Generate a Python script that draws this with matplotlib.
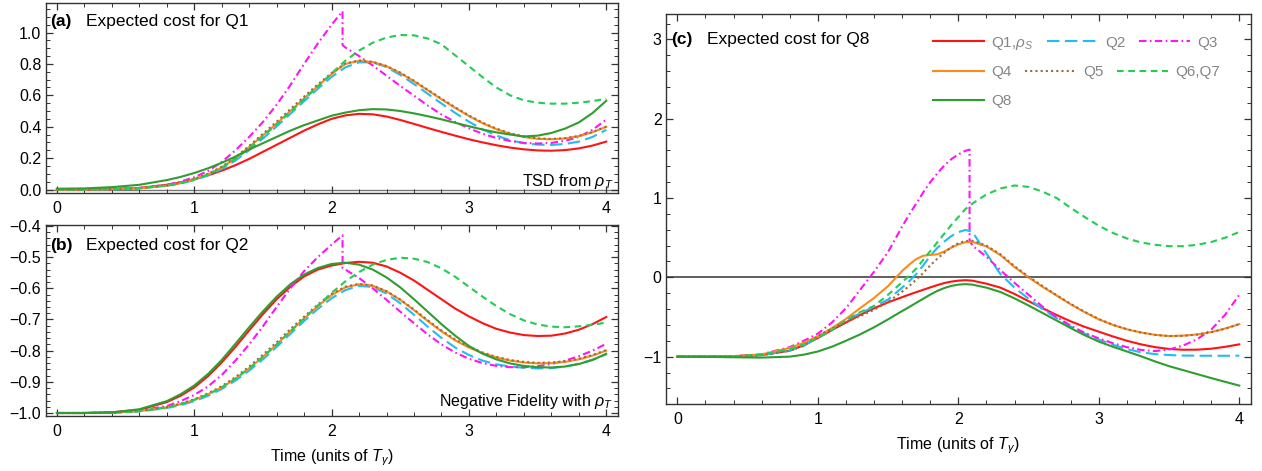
import matplotlib
matplotlib.use("Agg")
import matplotlib.pyplot as plt
from matplotlib.ticker import MultipleLocator, FuncFormatter
from matplotlib.lines import Line2D

plt.rcParams['font.family'] = ['Liberation Sans', 'DejaVu Sans']
plt.rcParams['mathtext.fontset'] = 'custom'
plt.rcParams['mathtext.rm'] = 'Liberation Sans'
plt.rcParams['mathtext.it'] = 'Liberation Sans:italic'
plt.rcParams['mathtext.bf'] = 'Liberation Sans:bold'

# ---------------------------------------------------------------- time grids
t_ab = [0, 0.2, 0.4, 0.6, 0.8, 0.9, 1.0, 1.1, 1.2, 1.3, 1.4, 1.5, 1.6, 1.7,
        1.8, 1.9, 2.0, 2.1, 2.2, 2.3, 2.4, 2.5, 2.6, 2.7, 2.8, 2.9, 3.0, 3.1,
        3.2, 3.3, 3.4, 3.5, 3.6, 3.7, 3.8, 3.9, 4.0]
# Q3 has a jump at the switching time
t_ab_q3 = [0, 0.2, 0.4, 0.6, 0.8, 0.9, 1.0, 1.1, 1.2, 1.3, 1.4, 1.5, 1.6, 1.7,
           1.8, 1.9, 2.0, 2.08, 2.08, 2.1, 2.2, 2.3, 2.4, 2.5, 2.6, 2.7, 2.8,
           2.9, 3.0, 3.1, 3.2, 3.3, 3.4, 3.5, 3.6, 3.7, 3.8, 3.9, 4.0]
t_c = [0, 0.2, 0.4, 0.6, 0.8, 0.9, 1.0, 1.1, 1.2, 1.3, 1.4, 1.5, 1.6, 1.65,
       1.7, 1.75, 1.8, 1.85, 1.9, 1.95, 2.0, 2.05, 2.1, 2.2, 2.3, 2.4, 2.5,
       2.6, 2.7, 2.8, 2.9, 3.0, 3.1, 3.2, 3.3, 3.4, 3.5, 3.6, 3.7, 3.8, 3.9, 4.0]
t_c_q3 = [0, 0.2, 0.4, 0.6, 0.8, 0.9, 1.0, 1.1, 1.2, 1.3, 1.4, 1.5, 1.6, 1.65,
          1.7, 1.75, 1.8, 1.85, 1.9, 1.95, 2.0, 2.05, 2.08, 2.08, 2.1, 2.2,
          2.3, 2.4, 2.5, 2.6, 2.7, 2.8, 2.9, 3.0, 3.1, 3.2, 3.3, 3.4, 3.5,
          3.6, 3.7, 3.8, 3.9, 4.0]

# ------------------------------------------- (a) expected cost for Q1 (TSD)
a_q1 = [0.0, 0.0, 0.003, 0.01, 0.03, 0.045, 0.065, 0.09, 0.12, 0.155, 0.195,
        0.24, 0.285, 0.33, 0.375, 0.415, 0.45, 0.472, 0.482, 0.479, 0.465,
        0.443, 0.418, 0.392, 0.367, 0.343, 0.32, 0.3, 0.282, 0.267, 0.256,
        0.249, 0.247, 0.251, 0.262, 0.28, 0.305]
a_q2 = [0.0, 0.0, 0.002, 0.008, 0.024, 0.038, 0.06, 0.09, 0.13, 0.185, 0.25,
        0.325, 0.402, 0.482, 0.562, 0.642, 0.717, 0.778, 0.81, 0.81, 0.78,
        0.73, 0.672, 0.61, 0.548, 0.488, 0.432, 0.383, 0.344, 0.314, 0.295,
        0.286, 0.284, 0.29, 0.305, 0.335, 0.38]
a_q3 = [0.0, 0.0, 0.002, 0.01, 0.03, 0.05, 0.078, 0.118, 0.175, 0.25, 0.335,
        0.43, 0.54, 0.665, 0.8, 0.93, 1.05, 1.135, 0.92, 0.905, 0.85, 0.79,
        0.725, 0.66, 0.598, 0.535, 0.478, 0.43, 0.39, 0.355, 0.328, 0.309,
        0.297, 0.293, 0.297, 0.31, 0.335, 0.38, 0.445]
a_q4 = [0.0, 0.0, 0.002, 0.008, 0.025, 0.04, 0.065, 0.097, 0.14, 0.2, 0.27,
        0.345, 0.42, 0.5, 0.58, 0.66, 0.735, 0.8, 0.82, 0.812, 0.785, 0.742,
        0.69, 0.632, 0.575, 0.52, 0.468, 0.422, 0.384, 0.355, 0.335, 0.323,
        0.32, 0.325, 0.34, 0.365, 0.4]
a_q5 = [0.0, 0.0, 0.002, 0.008, 0.026, 0.042, 0.068, 0.1, 0.145, 0.205, 0.278,
        0.355, 0.432, 0.512, 0.592, 0.67, 0.742, 0.803, 0.822, 0.813, 0.787,
        0.745, 0.693, 0.636, 0.579, 0.524, 0.472, 0.426, 0.388, 0.358, 0.338,
        0.326, 0.322, 0.327, 0.341, 0.366, 0.4]
a_q6 = [0.0, 0.0, 0.002, 0.008, 0.025, 0.04, 0.063, 0.095, 0.137, 0.195, 0.262,
        0.337, 0.415, 0.495, 0.575, 0.655, 0.74, 0.82, 0.885, 0.935, 0.968,
        0.984, 0.982, 0.962, 0.925, 0.855, 0.785, 0.715, 0.65, 0.6, 0.568,
        0.553, 0.547, 0.547, 0.553, 0.563, 0.578]
a_q8 = [0.005, 0.007, 0.015, 0.03, 0.06, 0.08, 0.105, 0.135, 0.17, 0.21, 0.255,
        0.295, 0.335, 0.375, 0.41, 0.44, 0.47, 0.49, 0.505, 0.512, 0.51, 0.5,
        0.485, 0.467, 0.447, 0.425, 0.403, 0.382, 0.364, 0.35, 0.338, 0.343,
        0.36, 0.388, 0.427, 0.487, 0.565]

# ------------------------------- (b) expected cost for Q2 (negative fidelity)
b_q1 = [-1.0, -1.0, -0.998, -0.99, -0.965, -0.945, -0.918, -0.882, -0.838,
        -0.788, -0.735, -0.683, -0.635, -0.595, -0.562, -0.54, -0.527, -0.519,
        -0.515, -0.518, -0.53, -0.55, -0.575, -0.605, -0.635, -0.665, -0.69,
        -0.712, -0.73, -0.742, -0.75, -0.753, -0.752, -0.745, -0.733, -0.715,
        -0.692]
b_q2 = [-1.0, -1.0, -0.999, -0.995, -0.984, -0.975, -0.962, -0.945, -0.923,
        -0.896, -0.864, -0.828, -0.788, -0.746, -0.705, -0.666, -0.632, -0.606,
        -0.592, -0.596, -0.617, -0.648, -0.685, -0.723, -0.759, -0.79, -0.814,
        -0.832, -0.844, -0.851, -0.855, -0.857, -0.856, -0.851, -0.842, -0.829,
        -0.812]
b_q3 = [-1.0, -1.0, -0.998, -0.992, -0.978, -0.962, -0.942, -0.915, -0.878,
        -0.832, -0.78, -0.722, -0.66, -0.6, -0.545, -0.5, -0.46, -0.43, -0.535,
        -0.54, -0.567, -0.6, -0.637, -0.675, -0.712, -0.748, -0.78, -0.806,
        -0.826, -0.84, -0.849, -0.853, -0.853, -0.85, -0.843, -0.832, -0.818,
        -0.8, -0.778]
b_q4 = [-1.0, -1.0, -0.999, -0.994, -0.982, -0.972, -0.958, -0.94, -0.918,
        -0.89, -0.857, -0.82, -0.78, -0.738, -0.697, -0.657, -0.622, -0.597,
        -0.587, -0.592, -0.61, -0.637, -0.67, -0.705, -0.738, -0.767, -0.79,
        -0.808, -0.822, -0.832, -0.838, -0.841, -0.84, -0.836, -0.828, -0.816,
        -0.8]
b_q5 = [-1.0, -1.0, -0.999, -0.994, -0.981, -0.97, -0.956, -0.937, -0.914,
        -0.885, -0.851, -0.813, -0.773, -0.731, -0.691, -0.652, -0.618, -0.595,
        -0.586, -0.591, -0.609, -0.636, -0.668, -0.702, -0.735, -0.764, -0.787,
        -0.806, -0.82, -0.83, -0.836, -0.839, -0.838, -0.834, -0.826, -0.814,
        -0.798]
b_q6 = [-1.0, -1.0, -0.999, -0.994, -0.982, -0.972, -0.958, -0.94, -0.918,
        -0.89, -0.857, -0.82, -0.78, -0.738, -0.697, -0.655, -0.615, -0.578,
        -0.548, -0.524, -0.509, -0.502, -0.505, -0.516, -0.536, -0.563, -0.595,
        -0.627, -0.657, -0.683, -0.703, -0.716, -0.723, -0.725, -0.722, -0.717,
        -0.71]
b_q8 = [-1.0, -1.0, -0.998, -0.988, -0.962, -0.94, -0.912, -0.875, -0.83,
        -0.778, -0.725, -0.674, -0.627, -0.587, -0.556, -0.535, -0.522, -0.518,
        -0.524, -0.54, -0.565, -0.597, -0.635, -0.675, -0.715, -0.752, -0.785,
        -0.81, -0.828, -0.841, -0.849, -0.853, -0.854, -0.851, -0.843, -0.83,
        -0.81]

# ------------------------------------------------ (c) expected cost for Q8
c_q1 = [-1.0, -1.0, -0.996, -0.98, -0.925, -0.855, -0.765, -0.665, -0.57,
        -0.475, -0.39, -0.315, -0.25, -0.218, -0.187, -0.157, -0.127, -0.098,
        -0.072, -0.054, -0.042, -0.036, -0.042, -0.08, -0.13, -0.21, -0.3,
        -0.39, -0.475, -0.555, -0.625, -0.685, -0.745, -0.8, -0.845, -0.88,
        -0.903, -0.913, -0.912, -0.9, -0.876, -0.845]
c_q2 = [-1.0, -1.0, -0.996, -0.98, -0.925, -0.865, -0.755, -0.645, -0.54,
        -0.455, -0.37, -0.28, -0.13, -0.05, 0.04, 0.15, 0.27, 0.37, 0.45, 0.52,
        0.57, 0.597, 0.575, 0.3, 0.04, -0.13, -0.27, -0.4, -0.515, -0.62,
        -0.71, -0.785, -0.85, -0.905, -0.945, -0.968, -0.98, -0.986, -0.988,
        -0.989, -0.989, -0.988]
c_q3 = [-1.0, -1.0, -0.993, -0.97, -0.88, -0.8, -0.71, -0.57, -0.39, -0.16,
        0.07, 0.32, 0.64, 0.79, 0.93, 1.07, 1.2, 1.31, 1.41, 1.49, 1.55, 1.595,
        1.61, 0.47, 0.4, 0.26, 0.09, -0.07, -0.22, -0.37, -0.5, -0.61, -0.7,
        -0.77, -0.83, -0.88, -0.915, -0.93, -0.91, -0.86, -0.78, -0.66, -0.47,
        -0.22]
c_q4 = [-1.0, -1.0, -0.995, -0.972, -0.89, -0.825, -0.745, -0.64, -0.525,
        -0.39, -0.26, -0.11, 0.08, 0.16, 0.23, 0.272, 0.282, 0.29, 0.325,
        0.375, 0.415, 0.443, 0.448, 0.39, 0.28, 0.13, 0.0, -0.12, -0.23, -0.34,
        -0.44, -0.53, -0.6, -0.655, -0.695, -0.725, -0.74, -0.735, -0.72,
        -0.69, -0.645, -0.59]
c_q5 = [-1.0, -1.0, -0.996, -0.98, -0.925, -0.86, -0.74, -0.645, -0.565,
        -0.49, -0.41, -0.31, -0.18, -0.11, -0.03, 0.055, 0.15, 0.235, 0.31,
        0.38, 0.43, 0.458, 0.462, 0.4, 0.29, 0.14, 0.01, -0.11, -0.225,
        -0.335, -0.435, -0.525, -0.598, -0.655, -0.696, -0.726, -0.741, -0.738,
        -0.722, -0.692, -0.648, -0.59]
c_q6 = [-1.0, -1.0, -0.995, -0.975, -0.905, -0.845, -0.765, -0.665, -0.54,
        -0.44, -0.36, -0.22, -0.06, 0.02, 0.11, 0.22, 0.33, 0.44, 0.55, 0.66,
        0.76, 0.86, 0.93, 1.045, 1.12, 1.158, 1.14, 1.08, 1.0, 0.875, 0.76,
        0.65, 0.56, 0.49, 0.44, 0.41, 0.393, 0.392, 0.41, 0.445, 0.5, 0.572]
c_q8 = [-1.0, -1.003, -1.008, -1.012, -1.0, -0.975, -0.935, -0.875, -0.8,
        -0.72, -0.63, -0.53, -0.425, -0.375, -0.322, -0.27, -0.218, -0.172,
        -0.135, -0.108, -0.092, -0.086, -0.092, -0.13, -0.185, -0.265, -0.355,
        -0.45, -0.545, -0.64, -0.73, -0.81, -0.875, -0.935, -0.995, -1.06,
        -1.12, -1.17, -1.22, -1.27, -1.318, -1.365]

# ----------------------------------------------------------------- styles
LW = 1.5
styles = {
    'Q1': dict(color='#ff1414', linestyle='-'),
    'Q2': dict(color='#22bdf0', linestyle=(0, (6.0, 2.6))),
    'Q3': dict(color='#ff14f5', linestyle=(0, (3.6, 1.6, 0.8, 1.6))),
    'Q4': dict(color='#ff8a1c', linestyle='-'),
    'Q5': dict(color='#9c6a3c', linestyle=(0, (1.0, 1.5))),
    'Q6': dict(color='#22cc55', linestyle=(0, (3.2, 2.2))),
    'Q8': dict(color='#2f9d2f', linestyle='-'),
}
labels = {'Q1': r'Q1,$\rho_S$', 'Q2': 'Q2', 'Q3': 'Q3', 'Q4': 'Q4',
          'Q5': 'Q5', 'Q6': 'Q6,Q7', 'Q8': 'Q8'}

FRAME = '#333333'


def minus_fmt(decimals):
    def f(v, pos):
        s = f"{v:.{decimals}f}"
        if s.startswith('-') and float(s) == 0:
            s = s[1:]
        return s.replace('-', '\u2212')
    return FuncFormatter(f)


def style_axes(ax):
    for sp in ax.spines.values():
        sp.set_color(FRAME)
        sp.set_linewidth(1.0)
    ax.tick_params(which='both', direction='in', top=True, right=True,
                   color=FRAME, labelsize=11.5)
    ax.tick_params(axis='x', which='both', pad=6)
    ax.tick_params(axis='y', which='both', pad=3)
    ax.tick_params(which='major', length=5, width=0.9)
    ax.tick_params(which='minor', length=2.6, width=0.7)
    ax.set_xticks([0, 1, 2, 3, 4])
    ax.xaxis.set_minor_locator(MultipleLocator(0.2))
    ax.xaxis.set_major_formatter(minus_fmt(0))


def draw(ax, series):
    for key, x, y in series:
        ax.plot(x, y, lw=LW, **styles[key], zorder=3)


fig = plt.figure(figsize=(12.62, 4.71), dpi=100)
W, H = 1262.0, 471.0


def rect(l, t, r, b):
    return [l / W, 1 - b / H, (r - l) / W, (b - t) / H]


ax_a = fig.add_axes(rect(45.5, 3, 617.5, 192.5))
ax_b = fig.add_axes(rect(45.5, 225, 617.5, 415.5))
ax_c = fig.add_axes(rect(665.7, 14, 1250.8, 404))

# panel (a)
draw(ax_a, [('Q1', t_ab, a_q1), ('Q2', t_ab, a_q2), ('Q3', t_ab_q3, a_q3),
            ('Q4', t_ab, a_q4), ('Q5', t_ab, a_q5), ('Q6', t_ab, a_q6),
            ('Q8', t_ab, a_q8)])
ax_a.axhline(0, color='#777777', lw=1.0, zorder=1)
ax_a.set_xlim(-0.083, 4.082)
ax_a.set_ylim(-0.019, 1.188)
style_axes(ax_a)
ax_a.set_yticks([0, 0.2, 0.4, 0.6, 0.8, 1.0])
ax_a.yaxis.set_minor_locator(MultipleLocator(0.05))
ax_a.yaxis.set_major_formatter(minus_fmt(1))
ax_a.text(0.008, 0.9, '(a)', transform=ax_a.transAxes, fontsize=12.5,
          fontweight='bold', va='center', ha='left')
ax_a.text(0.07, 0.9, 'Expected cost for Q1', transform=ax_a.transAxes,
          fontsize=12.5, va='center', ha='left')
ax_a.text(0.993, 0.06, r'TSD from $\rho_T$', transform=ax_a.transAxes,
          fontsize=11.5, va='center', ha='right')

# panel (b)
draw(ax_b, [('Q1', t_ab, b_q1), ('Q2', t_ab, b_q2), ('Q3', t_ab_q3, b_q3),
            ('Q4', t_ab, b_q4), ('Q5', t_ab, b_q5), ('Q6', t_ab, b_q6),
            ('Q8', t_ab, b_q8)])
ax_b.set_xlim(-0.083, 4.082)
ax_b.set_ylim(-1.008, -0.397)
style_axes(ax_b)
ax_b.set_yticks([-1.0, -0.9, -0.8, -0.7, -0.6, -0.5, -0.4])
ax_b.yaxis.set_minor_locator(MultipleLocator(0.02))
ax_b.yaxis.set_major_formatter(minus_fmt(1))
ax_b.text(0.008, 0.895, '(b)', transform=ax_b.transAxes, fontsize=12.5,
          fontweight='bold', va='center', ha='left')
ax_b.text(0.07, 0.895, 'Expected cost for Q2', transform=ax_b.transAxes,
          fontsize=12.5, va='center', ha='left')
ax_b.text(0.993, 0.072, r'Negative Fidelity with $\rho_T$',
          transform=ax_b.transAxes, fontsize=11.5, va='center', ha='right')
ax_b.set_xlabel(r'Time (units of $T_\gamma$)', fontsize=11.5, labelpad=6)

# panel (c)
draw(ax_c, [('Q1', t_c, c_q1), ('Q2', t_c, c_q2), ('Q3', t_c_q3, c_q3),
            ('Q4', t_c, c_q4), ('Q5', t_c, c_q5), ('Q6', t_c, c_q6),
            ('Q8', t_c, c_q8)])
ax_c.axhline(0, color='#444444', lw=1.2, zorder=1)
ax_c.set_xlim(-0.083, 4.082)
ax_c.set_ylim(-1.597, 3.32)
style_axes(ax_c)
ax_c.set_yticks([-1, 0, 1, 2, 3])
ax_c.yaxis.set_minor_locator(MultipleLocator(0.2))
ax_c.yaxis.set_major_formatter(minus_fmt(0))
ax_c.text(0.01, 0.935, '(c)', transform=ax_c.transAxes, fontsize=12.5,
          fontweight='bold', va='center', ha='left')
ax_c.text(0.071, 0.935, 'Expected cost for Q8', transform=ax_c.transAxes,
          fontsize=12.5, va='center', ha='left')
ax_c.set_xlabel(r'Time (units of $T_\gamma$)', fontsize=11.5, labelpad=6)

# legend laid out row by row
rows = [['Q1', 'Q2', 'Q3'], ['Q4', 'Q5', 'Q6'], ['Q8']]
row_y = [0.925, 0.8505, 0.777]
legs = []
for keys, yc in zip(rows, row_y):
    handles = [Line2D([], [], lw=LW, **styles[k]) for k in keys]
    leg = ax_c.legend(handles, [labels[k] for k in keys], ncol=len(keys),
                      loc='center left', bbox_to_anchor=(0.457, yc),
                      bbox_transform=ax_c.transAxes, frameon=False,
                      handlelength=3.3, handletextpad=0.5, columnspacing=0.9,
                      borderpad=0, borderaxespad=0, fontsize=11,
                      labelcolor='#858585')
    legs.append(leg)
for leg in legs[:-1]:
    ax_c.add_artist(leg)

fig.savefig('out.png', dpi=100)
